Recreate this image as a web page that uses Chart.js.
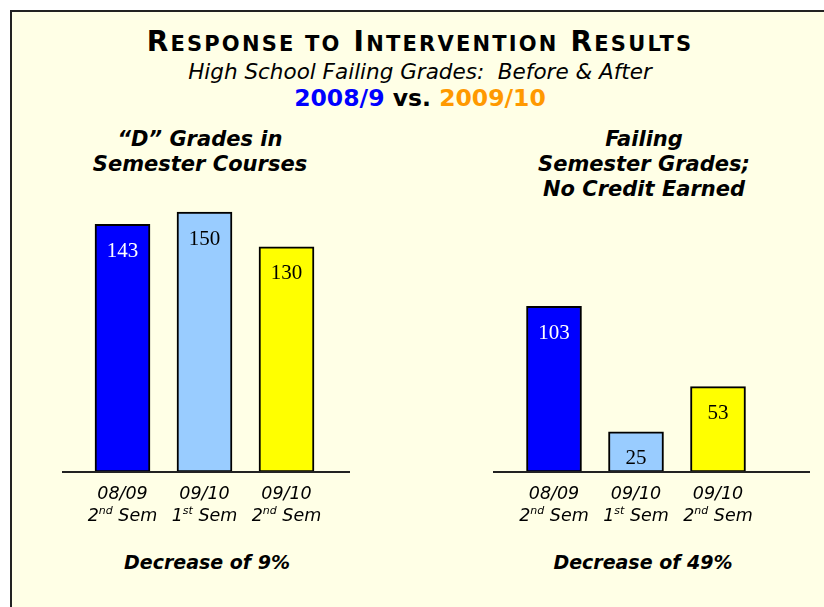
<!DOCTYPE html>
<html>
<head>
<meta charset="utf-8">
<script src="https://cdn.jsdelivr.net/npm/chart.js@4.4.0/dist/chart.umd.min.js"></script>
<style>
  html, body { margin: 0; padding: 0; width: 824px; height: 607px; overflow: hidden; background: #fff; }
  #frame { position: absolute; left: 10px; top: 10px; width: 900px; height: 700px; background: #ffffe6; border: 2px solid #222; }
  .t { position: absolute; left: 8px; width: 824px; text-align: center; font-family: "DejaVu Sans", sans-serif; color: #000; white-space: pre; }
  .sc { font-size: 21px; text-transform: uppercase; }
  .sub { position: absolute; text-align: center; font-family: "DejaVu Sans", sans-serif; font-weight: bold; font-style: italic; white-space: pre; }
  canvas { position: absolute; }
</style>
</head>
<body>
<div id="frame"></div>

<div class="t" style="top:26px;font-size:28px;line-height:32px;font-weight:bold;letter-spacing:2.2px;">R<span class="sc">esponse to</span> I<span class="sc">ntervention</span> R<span class="sc">esults</span></div>
<div class="t" style="top:60px;font-size:21.5px;line-height:24px;font-style:italic;">High School Failing Grades:  Before &amp; After</div>
<div class="t" style="top:85px;font-size:23.5px;line-height:26px;font-weight:bold;"><span style="color:#0000ff">2008/9</span> vs. <span style="color:#ff9900">2009/10</span></div>

<div class="sub" style="left:50px;width:300px;top:127px;font-size:21px;line-height:25px;">“D” Grades in
Semester Courses</div>
<div class="sub" style="left:494px;width:300px;top:127px;font-size:21px;line-height:25px;">Failing
Semester Grades;
No Credit Earned</div>

<div class="sub" style="left:57px;width:300px;top:550px;font-size:19px;line-height:24px;">Decrease of 9%</div>
<div class="sub" style="left:493px;width:300px;top:550px;font-size:19px;line-height:24px;">Decrease of 49%</div>

<canvas id="left" width="310" height="340" style="left:50px;top:190px;"></canvas>
<canvas id="right" width="340" height="340" style="left:480px;top:190px;"></canvas>

<script>
// categories shared by both panels (second line gets a superscript ordinal)
const categories = [["08/09", "2nd Sem"], ["09/10", "1st Sem"], ["09/10", "2nd Sem"]]

// "D" grades in semester courses
const dGrades = [143, 150, 130]
// failing semester grades, no credit earned
const failingGrades = [103, 25, 53]

const barColors = ["#0000ff", "#99ccff", "#ffff00"]
const valueColors = ["#ffffff", "#000000", "#000000"]

// draws the baseline, the value labels inside the bars and the category labels
const decorPlugin = {
  id: "decor",
  afterDatasetsDraw(chart, args, opts) {
    const ctx = chart.ctx
    const area = chart.chartArea
    const x = chart.scales.x

    ctx.save()
    ctx.strokeStyle = "#222"
    ctx.lineWidth = 2
    ctx.beginPath()
    ctx.moveTo(area.left - opts.extL, area.bottom)
    ctx.lineTo(area.right + opts.extR, area.bottom)
    ctx.stroke()

    // values near the top of each bar
    const meta = chart.getDatasetMeta(0)
    const values = chart.data.datasets[0].data
    ctx.font = '21px "Liberation Serif"'
    ctx.textAlign = "center"
    ctx.textBaseline = "middle"
    meta.data.forEach((bar, i) => {
      ctx.fillStyle = valueColors[i]
      ctx.fillText(String(values[i]), bar.x, bar.y + 27)
    })

    // category labels, two lines, with superscript ordinal
    ctx.fillStyle = "#000"
    const big = 'italic 17.5px "DejaVu Sans"'
    const small = 'italic 11px "DejaVu Sans"'
    chart.data.labels.forEach((lab, i) => {
      const cx = x.getPixelForValue(i)
      ctx.font = big
      ctx.textAlign = "center"
      ctx.textBaseline = "middle"
      ctx.fillText(lab[0], cx, area.bottom + 22)

      const m = lab[1].match(/^(\d)(st|nd|rd|th)(.*)$/)
      ctx.font = big
      const w1 = ctx.measureText(m[1]).width
      const w3 = ctx.measureText(m[3]).width
      ctx.font = small
      const w2 = ctx.measureText(m[2]).width
      let sx = cx - (w1 + w2 + w3) / 2
      const y2 = area.bottom + 44
      ctx.textAlign = "left"
      ctx.font = big
      ctx.fillText(m[1], sx, y2)
      sx += w1
      ctx.font = small
      ctx.fillText(m[2], sx, y2 - 5)
      sx += w2
      ctx.font = big
      ctx.fillText(m[3], sx, y2)
    })
    ctx.restore()
  }
}

function makeChart(id, values, yMax, padding, ext) {
  return new Chart(document.getElementById(id), {
    type: "bar",
    data: {
      labels: categories,
      datasets: [{
        data: values,
        backgroundColor: barColors,
        borderColor: "#000",
        borderWidth: 2,
        borderSkipped: false,
        barThickness: 55
      }]
    },
    options: {
      responsive: false,
      animation: false,
      devicePixelRatio: 1,
      layout: { padding: padding },
      plugins: {
        legend: { display: false },
        tooltip: { enabled: false },
        decor: ext
      },
      scales: {
        x: { display: false },
        y: { display: false, min: 0, max: yMax }
      }
    },
    plugins: [decorPlugin]
  })
}

makeChart("left", dGrades, 157, { left: 31.5, right: 32.5, top: 10, bottom: 58 }, { extL: 19.5, extR: 22.5 })
makeChart("right", failingGrades, 169, { left: 33, right: 61, top: 10, bottom: 58 }, { extL: 20, extR: 51 })
</script>
</body>
</html>
